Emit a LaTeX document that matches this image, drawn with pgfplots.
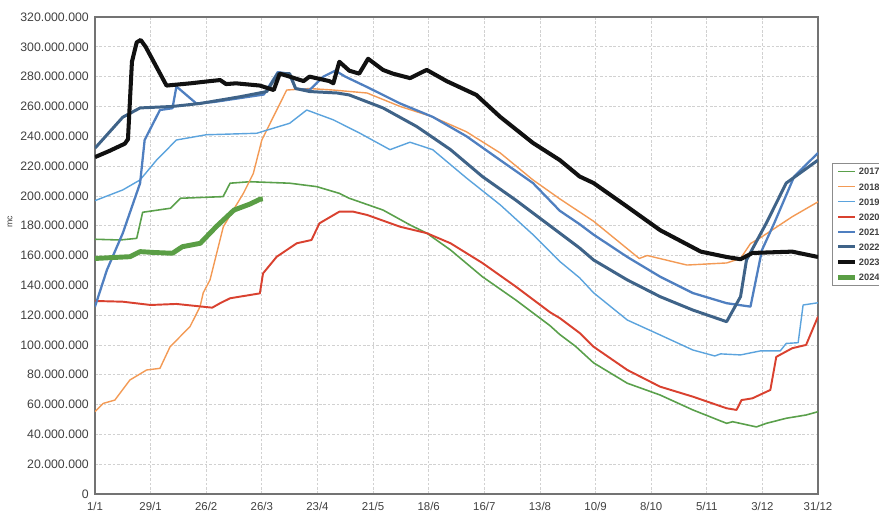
\documentclass[border=0pt]{standalone}
\usepackage{pgfplots}
\pgfplotsset{compat=1.18}
\usepackage{fontspec}
\setmainfont{Liberation Sans}
\definecolor{c17}{HTML}{5AA04B}
\definecolor{c18}{HTML}{F39A55}
\definecolor{c19}{HTML}{5BA3DD}
\definecolor{c20}{HTML}{D9412F}
\definecolor{c21}{HTML}{4F7FC0}
\definecolor{c22}{HTML}{3F6388}
\definecolor{c23}{HTML}{111111}
\definecolor{c24}{HTML}{5A9E45}
\begin{document}
\begin{tikzpicture}
\useasboundingbox (-1.9cm,-0.34cm) rectangle (15.68cm,9.88cm);
\begin{axis}[
  scale only axis, width=14.46cm, height=9.54cm,
  xmin=0, xmax=364, ymin=0, ymax=320,
  xtick={0,28,...,364},
  xticklabels={1/1,29/1,26/2,26/3,23/4,21/5,18/6,16/7,13/8,10/9,8/10,5/11,3/12,31/12},
  ytick={0,20,...,320},
  yticklabels={0,20.000.000,40.000.000,60.000.000,80.000.000,100.000.000,120.000.000,140.000.000,160.000.000,180.000.000,200.000.000,220.000.000,240.000.000,260.000.000,280.000.000,300.000.000,320.000.000},
  ticklabel style={font=\fontsize{7}{8}\selectfont, text=black!75},
  xticklabel style={font=\fontsize{6.5}{7}\selectfont, yshift=-1pt},
  tick style={draw=none},
  axis line style={draw=black!55, line width=0.8pt},
  grid=major,
  major grid style={draw=black!18, dash pattern=on 1.5pt off 1pt, line width=0.4pt},
  legend style={at={(1.0195,0.694)}, anchor=north west, draw=black!45, line width=0.4pt,
    font=\fontsize{5.3}{6}\selectfont\bfseries, text=black!75, inner sep=2pt, row sep=3.4pt,
    column sep=0pt,
    nodes={inner sep=0.6pt, text height=4pt, text depth=0pt}},
  legend cell align=left,
  legend image code/.code={\draw[#1] (0cm,0cm) -- (0.34cm,0cm);},
  every axis plot/.append style={line join=round},
]
% 2017
\addplot[c17, line width=0.9pt] coordinates {(0,170.9)(12.6,170.4)(21,171.5)(24,189)(38,191.7)(43,198.4)(64.5,199.5)(68,208.5)(78,209.5)(98,208.5)(111.6,206.2)(123,201.7)(128,198.4)(145,190.5)(158.6,180.5)(167,175)(179,163.7)(195,145.8)(212,130)(229,113)(234,107)(242,99)(251,88)(268,74.3)(284.5,66.4)(301,56.4)(318,47.4)(321,48.5)(333,45)(338,47.4)(348,50.8)(358,53)(364,55.2)};
\addlegendentry{2017}
% 2018
\addplot[c18, line width=0.8pt] coordinates {(0,55.2)(4.2,60.8)(10,63)(17.6,76.5)(26,83.2)(32.7,84.3)(37.8,98.8)(47.8,112.2)(52.9,125.7)(54.5,135)(57.9,143.6)(64.6,179.3)(74.7,201.7)(79.7,215)(84,237.5)(91.5,257.6)(96.5,271)(108,272)(120,271)(137,269)(153.6,260)(170,253)(187,243)(204,228.8)(220.5,210.7)(234,198)(251,183)(274,158)(278,160)(298,153.6)(318,155)(325,158)(330,168)(335.8,172.6)(351,186)(364,196)};
\addlegendentry{2018}
% 2019
\addplot[c19, line width=0.8pt] coordinates {(0,196.8)(14,204)(22.7,210.7)(31,224)(41,237.5)(56,241)(81.4,242)(98,248.7)(106.6,257.6)(120,251)(133.4,242)(148.5,231)(158.6,236)(170,231)(187,212)(204,194)(220.5,174)(234,156)(244,145)(251,135)(268,116.7)(284.5,106.7)(301,96.6)(312,92.6)(315,94)(325,93.3)(335,96)(345,96)(348,101)(354,101.5)(356.5,126.8)(364,128.3)};
\addlegendentry{2019}
% 2020
\addplot[c20, line width=1.1pt] coordinates {(0,129.5)(14,129)(28,126.8)(41,127.5)(59,125)(63,128)(68,131.3)(83,134.6)(84.6,148)(91.5,159.2)(101.6,168.2)(109,170.4)(113,181.6)(123,189.4)(130,189.4)(137,187.2)(153.6,179.3)(167,175)(179,168.2)(195,155)(212,139)(229,122)(234,118)(244,108)(251,98.8)(268,83.2)(284.5,72)(301,65.3)(318,57.5)(323,56.4)(325.5,63)(331,64.2)(340,69.8)(343,92)(351,97.8)(358,100)(364,119)};
\addlegendentry{2020}
% 2021
\addplot[c21, line width=1.3pt] coordinates {(0,125.7)(6,150.3)(14,175)(22.7,208.5)(25,237.5)(32.7,257.6)(39,258.8)(41,273.4)(51,262)(60,263)(75,266)(85,268)(92,283)(97.6,282)(101,272)(108,271)(115,280)(121,284)(126,280)(137,273)(153.6,262)(170,253)(187,240)(204,224)(220.5,208.6)(234,190)(244,181)(251,174)(268,159)(284.5,145.8)(301,134.8)(318,128)(330,125.7)(335.8,163.7)(342,181.8)(352,213)(364,228.8)};
\addlegendentry{2021}
% 2022
\addplot[c22, line width=1.7pt] coordinates {(0,232)(14,252.8)(22.7,259)(39,260)(53,262)(73,266.5)(86.5,270)(92,282)(98,282)(101,272)(108,270)(122,269)(128,267.7)(145,259)(162,246.5)(179,231)(195,213)(212,197)(229,180)(234,175)(244,165)(251,157)(268,143.6)(284.5,132.4)(301,123.4)(318,115.6)(325,132.4)(328,157)(338,181.8)(348,208.6)(364,224)};
\addlegendentry{2022}
% 2023
\addplot[c23, line width=2.3pt] coordinates {(0,226)(7,230)(15,235)(16.6,238)(18.6,290)(21,303)(23,304.6)(25.5,300)(36,274)(48,275.5)(58,277)(63,277.7)(66,275)(71,275.5)(83,274)(90,271)(93,282)(98,280)(105,277)(108,280)(118,277)(120,275.5)(123,290)(128,284)(133,282)(137.5,292)(145,284.5)(150,282)(158.6,279)(167,284.5)(177,277)(192,267.7)(204,253)(220.5,235.5)(234,224)(244,213)(251,208.6)(268,192.7)(284.5,177)(305,162.6)(318,159)(325,157.5)(331,161.7)(351,162.6)(364,159)};
\addlegendentry{2023}
% 2024
\addplot[c24, line width=2.8pt] coordinates {(0,158)(7,158.5)(17.6,159.2)(22.7,162.6)(30,162)(39,161.5)(44,165.9)(53,168.2)(61,179.3)(70,190.5)(78,194.5)(83,197.7)(84.5,198)};
\addlegendentry{2024}
\end{axis}
\node[rotate=90, font=\fontsize{5}{6}\selectfont, text=black!75] at (-1.7cm,5.44cm) {mc};
\end{tikzpicture}
\end{document}
